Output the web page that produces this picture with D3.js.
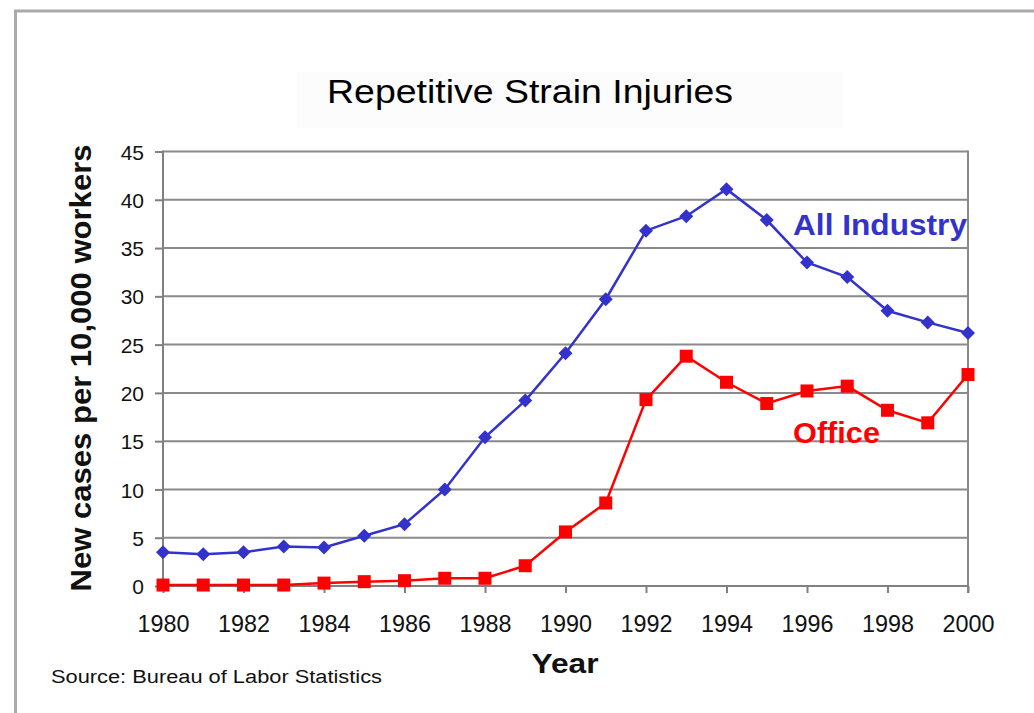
<!DOCTYPE html>
<html><head><meta charset="utf-8">
<script src="https://cdn.jsdelivr.net/npm/d3@7"></script>
<style>body{margin:0;background:#fff;} svg{display:block;font-family:"Liberation Sans",Arial,sans-serif;}</style>
</head><body>
<svg id="c" width="1034" height="713"></svg>
<script>
const years = [1980,1981,1982,1983,1984,1985,1986,1987,1988,1989,1990,1991,1992,1993,1994,1995,1996,1997,1998,1999,2000];
const allIndustry = [3.5,3.3,3.5,4.1,4.0,5.2,6.4,10.0,15.4,19.2,24.1,29.7,36.8,38.3,41.1,37.9,33.5,32.0,28.5,27.3,26.2];
const office = [0.1,0.1,0.1,0.1,0.3,0.45,0.55,0.8,0.8,2.1,5.6,8.6,19.3,23.8,21.1,18.9,20.2,20.7,18.2,16.9,21.9];
const yTicks = [0,5,10,15,20,25,30,35,40,45];
const xTicks = [1980,1982,1984,1986,1988,1990,1992,1994,1996,1998,2000];
const title = "Repetitive Strain Injuries";
const yLabel = "New cases per 10,000 workers";
const xLabel = "Year";
const source = "Source: Bureau of Labor Statistics";
const seriesNames = ["All Industry","Office"];

const svg = d3.select("#c");
const blue = "#3333cc", red = "#ff0000", grid = "#8a8a8a";

// outer frame
svg.append("path").attr("d","M15.5,713 L15.5,11 L1034,11").attr("fill","none").attr("stroke","#aaaaaa").attr("stroke-width",3);

// title background
svg.append("rect").attr("x",297).attr("y",72).attr("width",546).attr("height",56).attr("fill","#fcfcfc");
svg.append("text").attr("x",530).attr("y",103).attr("text-anchor","middle").attr("font-size",33).attr("fill","#000")
  .attr("textLength",406).attr("lengthAdjust","spacingAndGlyphs").text(title);

const x = d3.scaleLinear().domain([1980,2000]).range([163,968]);
const y = d3.scaleLinear().domain([0,45]).range([586,151.5]);

// gridlines
svg.append("g").selectAll("line").data(yTicks.filter(d=>d>0)).join("line")
  .attr("x1",163).attr("x2",968).attr("y1",d=>y(d)).attr("y2",d=>y(d))
  .attr("stroke",grid).attr("stroke-width",2);
// right border
svg.append("line").attr("x1",968).attr("x2",968).attr("y1",y(45)-1).attr("y2",593).attr("stroke",grid).attr("stroke-width",2);

// axes
const yAxis = d3.axisLeft(y).tickValues(yTicks).tickSize(8).tickPadding(11);
const gy = svg.append("g").attr("transform","translate(163,0)").call(yAxis);
gy.select(".domain").attr("stroke","#808080").attr("stroke-width",2).attr("d","M0,"+(y(45)-1)+"V"+y(0));
gy.selectAll(".tick line").attr("stroke","#808080").attr("stroke-width",2);
gy.selectAll(".tick text").attr("font-size",21).attr("fill","#111").attr("font-family","Liberation Sans, Arial").attr("dy","0.36em");

const gx = svg.append("g").attr("transform","translate(0,586)").call(d3.axisBottom(x).tickValues(xTicks).tickFormat(d3.format("d")).tickSize(7).tickPadding(23));
gx.select(".domain").attr("stroke","#808080").attr("stroke-width",2).attr("d","M163,0H968");
gx.selectAll(".tick line").attr("stroke","#808080").attr("stroke-width",2);
gx.selectAll(".tick text").attr("font-size",23).attr("fill","#111").attr("font-family","Liberation Sans, Arial")
  .attr("textLength",52).attr("lengthAdjust","spacingAndGlyphs");

// lines
const line = d3.line().x((d,i)=>x(years[i])).y(d=>y(d));
svg.append("path").datum(office).attr("d",line).attr("fill","none").attr("stroke",red).attr("stroke-width",2.5);
svg.append("path").datum(allIndustry).attr("d",line).attr("fill","none").attr("stroke",blue).attr("stroke-width",2.5);

// markers
svg.append("g").selectAll("rect").data(office).join("rect")
  .attr("x",(d,i)=>x(years[i])-6.5).attr("y",d=>y(d)-6.5).attr("width",13).attr("height",13).attr("fill",red);
svg.append("g").selectAll("path").data(allIndustry).join("path")
  .attr("transform",(d,i)=>`translate(${x(years[i])},${y(d)})`).attr("d","M0,-7L7,0L0,7L-7,0Z").attr("fill",blue);

// series labels
svg.append("text").attr("x",793).attr("y",235).attr("font-size",29).attr("font-weight","bold").attr("fill",blue)
  .attr("textLength",174).attr("lengthAdjust","spacingAndGlyphs").text(seriesNames[0]);
svg.append("text").attr("x",793).attr("y",443).attr("font-size",29).attr("font-weight","bold").attr("fill",red)
  .attr("textLength",87).attr("lengthAdjust","spacingAndGlyphs").text(seriesNames[1]);

// axis titles
svg.append("text").attr("transform","translate(91,368) rotate(-90)").attr("text-anchor","middle")
  .attr("font-size",30).attr("font-weight","bold").attr("fill","#111")
  .attr("textLength",447).attr("lengthAdjust","spacingAndGlyphs").text(yLabel);
svg.append("text").attr("x",565).attr("y",673).attr("text-anchor","middle").attr("font-size",28).attr("font-weight","bold").attr("fill","#111")
  .attr("textLength",67).attr("lengthAdjust","spacingAndGlyphs").text(xLabel);
svg.append("text").attr("x",51).attr("y",683).attr("font-size",18).attr("fill","#111")
  .attr("textLength",331).attr("lengthAdjust","spacingAndGlyphs").text(source);
</script>
</body></html>
